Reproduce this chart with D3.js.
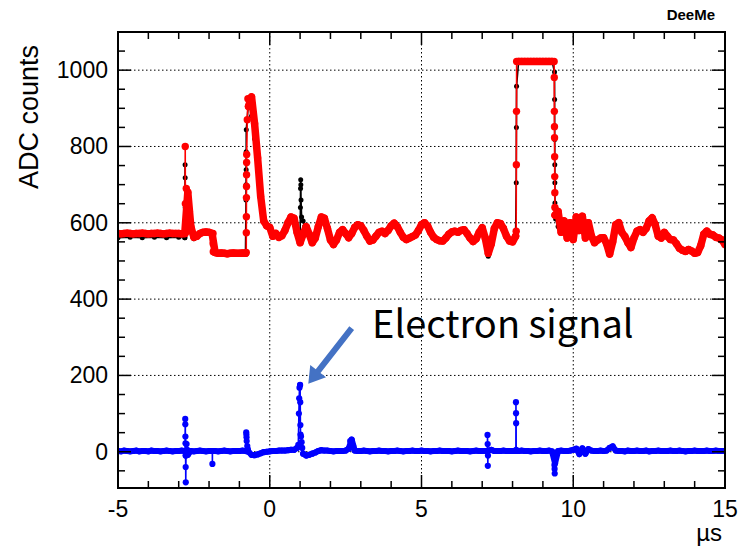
<!DOCTYPE html>
<html>
<head>
<meta charset="utf-8">
<script src="https://cdn.jsdelivr.net/npm/d3@7"></script>
<style>
  body { margin: 0; background: #fff; }
  text { font-family: "Liberation Sans", Arial, sans-serif; }
</style>
</head>
<body>
<script>
// ADC waveform, samples read every 100 ns from -5 us to 15 us
var redADC = [
  572,571,572,573,572,571,572,572,573,572,   // -5.0
  571,572,572,573,572,571,572,573,572,572,   // -4.0
  572,571,572,680,590,562,565,572,575,576,   // -3.0
  575,572,522,520,521,520,519,520,521,520,   // -2.0
  520,521,520,905,930,860,770,670,605,592,   // -1.0
  588,565,572,562,566,580,600,615,612,575,   //  0.0
  548,570,590,570,548,560,590,615,612,585,   //  1.0
  555,543,555,575,582,572,561,572,588,595,   //  2.0
  592,580,565,552,555,565,575,578,572,580,   //  3.0
  592,599,590,575,562,556,560,564,568,580,   //  4.0
  595,600,592,575,562,556,553,552,560,570,   //  5.0
  576,578,575,580,582,572,560,551,558,575,   //  6.0
  587,560,520,545,585,600,598,585,565,552,   //  7.0
  550,565,1023,1023,1023,1023,1023,1023,1023,1023, // 8.0
  1023,1023,1023,1023,620,630,575,605,560,600,     // 9.0
  556,615,580,617,560,600,565,548,555,560,   // 10.0
  561,545,518,550,595,600,575,564,548,535,   // 11.0
  560,578,582,575,585,605,613,595,565,560,   // 12.0
  575,565,556,555,545,533,528,525,530,526,   // 13.0
  520,522,540,570,578,570,568,562,560,555,   // 14.0
  543
];
// extra samples on the fast edges
var redEdges = [
  [-2.79, 572], [-2.785, 800], [-2.78, 650], [-2.775, 575], [-2.75, 690], [-2.65, 630],
  [-1.87, 572], [-1.865, 545], [-1.86, 524],
  [-0.775, 522], [-0.772, 574], [-0.77, 616], [-0.768, 666], [-0.766, 695],
  [-0.764, 726], [-0.762, 758], [-0.76, 779], [-0.74, 870], [-0.72, 925],
  [8.12, 578], [8.125, 752], [8.13, 892], [8.135, 1023],
  [9.37, 1023], [9.375, 981], [9.378, 892], [9.381, 852], [9.384, 823],
  [9.387, 773], [9.39, 721], [9.393, 679], [9.396, 640]
];

var blueADC = [
  2,1,3,2,1,2,3,1,2,2,        // -5.0
  1,3,2,2,1,2,3,2,1,2,        // -4.0
  2,3,2,-8,2,1,2,3,2,1,       // -3.0
  2,2,2,1,2,3,2,1,2,2,        // -2.0
  2,3,2,0,-8,-9,-7,-4,-1,0,   // -1.0
  1,2,2,3,3,3,4,5,5,10,       //  0.0
  175,-5,-10,-8,-5,-2,2,4,3,3,//  1.0
  2,1,2,2,2,3,8,32,3,2,       //  2.0
  2,3,2,1,2,2,3,2,2,1,        //  3.0
  2,2,3,2,1,2,2,3,2,2,        //  4.0
  3,2,2,1,2,2,3,2,2,2,        //  5.0
  1,2,3,2,2,2,1,2,3,2,        //  6.0
  2,2,3,5,2,2,2,3,2,2,        //  7.0
  2,2,2,3,2,2,1,2,2,3,        //  8.0
  2,2,3,1,-30,2,3,2,2,3,      //  9.0
  5,8,-6,9,-5,7,3,2,2,3,      // 10.0
  2,3,10,14,3,2,2,1,3,2,      // 11.0
  2,3,2,2,3,1,2,2,3,2,        // 12.0
  2,2,3,2,2,3,2,1,2,2,        // 13.0
  3,2,2,2,3,2,2,3,2,2,        // 14.0
  2
];
var blueEdges = [
  [-2.79, 2], [-2.785, 86], [-2.782, 72], [-2.779, 40], [-2.776, 22], [-2.773, -10],
  [-2.77, -40], [-2.767, -80], [-2.76, -10], [-2.74, 20], [-2.72, 5],
  [-1.892, 2], [-1.89, -32], [-1.888, 2],
  [-0.78, 3], [-0.775, 51], [-0.77, 45], [-0.765, 38], [-0.76, 28], [-0.74, 15], [-0.72, 6],
  [0.94, 18], [0.96, 100], [0.97, 140], [0.98, 168],
  [1.005, 130], [1.01, 70], [1.015, 45], [1.03, 40], [1.05, 25], [1.07, 10],
  [2.65, 28], [2.75, 15],
  [7.17, 2], [7.175, 44], [7.18, 20], [7.185, -37], [7.19, -10],
  [8.11, 2], [8.112, 130], [8.115, 101], [8.118, 75], [8.12, 5],
  [9.37, -10], [9.38, -35], [9.385, -45], [9.39, -57], [9.42, -5]
];

// second channel (black), only where it shows from under the red one
var blackTrace = [
  [-5, 561], [-4.6, 562], [-4.2, 561], [-3.8, 562], [-3.4, 561], [-3.0, 562], [-2.8, 561],
  [-2.795, 561], [-2.79, 752], [-2.787, 718], [-2.784, 640], [-2.7, 660], [-2.6, 600], [-2.5, 558], null,
  [-0.9, 518], [-0.8, 518], [-0.782, 660], [-0.78, 700], [-0.778, 739], [-0.776, 786],
  [-0.774, 844], [-0.7, 915], [-0.65, 925], [-0.6, 880], [-0.5, 820], [-0.4, 740], null,
  [0.95, 575], [1.0, 560], [1.01, 640], [1.015, 690], [1.02, 713], [1.025, 700],
  [1.03, 660], [1.05, 615], [1.1, 605], [1.15, 590], [1.2, 585], null,
  [7.1, 560], [7.2, 512], [7.25, 530], [7.3, 545], null,
  [8.1, 565], [8.122, 705], [8.127, 850], [8.132, 958], [8.2, 1023], null,
  [9.3, 1023], [9.383, 995], [9.386, 923], [9.388, 854], [9.39, 818], [9.392, 752],
  [9.394, 705], [9.396, 652], [9.42, 610], [9.5, 590]
];

var xMajor = [-5, 0, 5, 10, 15];
var yMajor = [0, 200, 400, 600, 800, 1000];

// annotation: [t, adc]
var arrowTail = [2.70, 324];
var arrowTip = [1.27, 178];
var noteText = "Electron signal";
var notePos = [3.37, 298];

var w = 743, h = 550;
var padL = 118, padR = 725, padT = 32, padB = 488;

var x = d3.scaleLinear().domain([-5, 15]).range([padL, padR]);
var y = d3.scaleLinear().domain([-95, 1100]).range([padB, padT]);

function gridPts(vals) {
  return vals.map(function(v, i) { return [-5 + i / 10, v]; });
}
function withEdges(vals, edges) {
  return gridPts(vals).concat(edges).sort(function(a, b) { return a[0] - b[0]; });
}
// grid samples with a break where the step is a fast edge (drawn thin instead)
function bandPts(vals, jump) {
  var out = [];
  gridPts(vals).forEach(function(p, i) {
    if (i > 0 && Math.abs(vals[i] - vals[i - 1]) > jump) out.push(null);
    out.push(p);
  });
  return out;
}
var redData = withEdges(redADC, redEdges);
var blueData = withEdges(blueADC, blueEdges);

var svg = d3.select("body").append("svg")
  .attr("width", w)
  .attr("height", h)
  .style("background", "#fff");

svg.append("clipPath").attr("id", "frame")
  .append("rect")
  .attr("x", padL).attr("y", padT)
  .attr("width", padR - padL).attr("height", padB - padT);

// dotted grid
var grid = svg.append("g")
  .attr("stroke", "#000")
  .attr("stroke-width", 1)
  .attr("stroke-dasharray", "1.5,2.5");
grid.selectAll(".gx")
  .data(xMajor.slice(1, -1))
  .enter().append("line")
  .attr("x1", function(d) { return x(d); })
  .attr("x2", function(d) { return x(d); })
  .attr("y1", padT).attr("y2", padB);
grid.selectAll(".gy")
  .data(yMajor)
  .enter().append("line")
  .attr("x1", padL).attr("x2", padR)
  .attr("y1", function(d) { return y(d); })
  .attr("y2", function(d) { return y(d); });

var line = d3.line()
  .defined(function(d) { return d != null; })
  .x(function(d) { return x(d[0]); })
  .y(function(d) { return y(d[1]); });

var plot = svg.append("g").attr("clip-path", "url(#frame)");

function trace(data, color, r, band, bandW) {
  if (band) {
    plot.append("path")
      .datum(band)
      .attr("d", line)
      .attr("fill", "none")
      .attr("stroke", color)
      .attr("stroke-width", bandW)
      .attr("stroke-linejoin", "round")
      .attr("stroke-linecap", "round");
  }
  plot.append("path")
    .datum(data)
    .attr("d", line)
    .attr("fill", "none")
    .attr("stroke", color)
    .attr("stroke-width", 1.6);
  plot.append("g")
    .selectAll("circle")
    .data(data.filter(function(d) { return d != null; }))
    .enter().append("circle")
    .attr("cx", function(d) { return x(d[0]); })
    .attr("cy", function(d) { return y(d[1]); })
    .attr("r", r)
    .attr("fill", color);
}

trace(blueData, "#0000ff", 3.1, bandPts(blueADC, 100), 6);
trace(blackTrace, "#000000", 2.5);
trace(redData, "#ff0000", 3.7, bandPts(redADC, 200), 7.5);

// frame and inward ticks
svg.append("rect")
  .attr("x", padL).attr("y", padT)
  .attr("width", padR - padL).attr("height", padB - padT)
  .attr("fill", "none")
  .attr("stroke", "#000")
  .attr("stroke-width", 2);

var ticks = svg.append("g").attr("stroke", "#000").attr("stroke-width", 1.5);
var xMinor = d3.range(-5, 15.5, 1);
var yMinor = d3.range(-50, 1100, 50);
xMinor.forEach(function(t) {
  var len = xMajor.indexOf(t) >= 0 ? 13 : 7;
  ticks.append("line").attr("x1", x(t)).attr("x2", x(t)).attr("y1", padB).attr("y2", padB - len);
  ticks.append("line").attr("x1", x(t)).attr("x2", x(t)).attr("y1", padT).attr("y2", padT + len);
});
yMinor.forEach(function(v) {
  var len = yMajor.indexOf(v) >= 0 ? 13 : 7;
  ticks.append("line").attr("x1", padL).attr("x2", padL + len).attr("y1", y(v)).attr("y2", y(v));
  ticks.append("line").attr("x1", padR).attr("x2", padR - len).attr("y1", y(v)).attr("y2", y(v));
});

// tick labels
svg.append("g").selectAll("text")
  .data(xMajor)
  .enter().append("text")
  .attr("x", function(d) { return x(d); })
  .attr("y", 517)
  .attr("text-anchor", "middle")
  .attr("font-size", 23)
  .text(function(d) { return String(d); });

svg.append("g").selectAll("text")
  .data(yMajor)
  .enter().append("text")
  .attr("x", 108)
  .attr("y", function(d) { return y(d) + 8; })
  .attr("text-anchor", "end")
  .attr("font-size", 23)
  .text(function(d) { return String(d); });

svg.append("text")
  .attr("transform", "translate(38,45) rotate(-90)")
  .attr("text-anchor", "end")
  .attr("font-size", 27)
  .text("ADC counts");

svg.append("text")
  .attr("x", 722).attr("y", 541)
  .attr("text-anchor", "end")
  .attr("font-size", 24)
  .text("\u00b5s");

svg.append("text")
  .attr("x", 715).attr("y", 20)
  .attr("text-anchor", "end")
  .attr("font-size", 15)
  .attr("font-weight", "bold")
  .text("DeeMe");

// annotation arrow
var ax0 = x(arrowTail[0]), ay0 = y(arrowTail[1]);
var ax1 = x(arrowTip[0]), ay1 = y(arrowTip[1]);
var ang = Math.atan2(ay1 - ay0, ax1 - ax0);
var len = Math.hypot(ax1 - ax0, ay1 - ay0);
var headLen = 16, headW = 10, shaftW = 3;
var arrowPts = [
  [0, -shaftW], [len - headLen, -shaftW], [len - headLen, -headW],
  [len, 0], [len - headLen, headW], [len - headLen, shaftW], [0, shaftW]
];
svg.append("polygon")
  .attr("points", arrowPts.map(function(p) { return p.join(","); }).join(" "))
  .attr("transform", "translate(" + ax0 + "," + ay0 + ") rotate(" + (ang * 180 / Math.PI) + ")")
  .attr("fill", "#4472c4");

svg.append("text")
  .attr("x", x(notePos[0]))
  .attr("y", y(notePos[1]))
  .attr("font-size", 38)
  .style("font-family", "'Noto Sans CJK JP', 'Noto Sans', sans-serif")
  .attr("fill", "#000")
  .text(noteText);
</script>
</body>
</html>
